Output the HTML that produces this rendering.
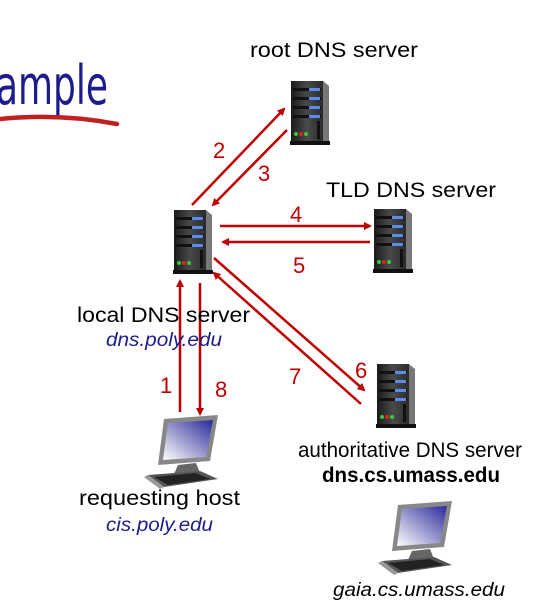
<!DOCTYPE html>
<html><head><meta charset="utf-8"><style>
html,body{margin:0;padding:0;background:#fff;width:553px;height:614px;overflow:hidden}
text{font-family:"Liberation Sans",sans-serif}
</style></head><body>
<svg width="553" height="614" viewBox="0 0 553 614" xmlns="http://www.w3.org/2000/svg">
<defs>
<linearGradient id="sg" x1="0" x2="1" y1="0" y2="0"><stop offset="0" stop-color="#1a1a1a"/><stop offset="0.5" stop-color="#4a4a4a"/><stop offset="1" stop-color="#2a2a2a"/></linearGradient>
<linearGradient id="scr" x1="0" y1="1" x2="1" y2="0"><stop offset="0" stop-color="#fff"/><stop offset="1" stop-color="#2a2a9a"/></linearGradient>
<g id="srv">
<rect x="0" y="2" width="32" height="60" fill="url(#sg)"/>
<polygon points="32,2 38,7 38,62 32,62" fill="#777"/>
<rect x="2" y="9" width="28" height="3" fill="#111"/><rect x="18" y="9" width="11" height="3" fill="#5a8ce8"/>
<rect x="2" y="18" width="28" height="3" fill="#111"/><rect x="18" y="18" width="11" height="3" fill="#5a8ce8"/>
<rect x="2" y="27" width="28" height="3" fill="#111"/><rect x="18" y="27" width="11" height="3" fill="#5a8ce8"/>
<rect x="2" y="36" width="28" height="3" fill="#111"/><rect x="18" y="36" width="11" height="3" fill="#5a8ce8"/>
<rect x="26" y="42" width="3" height="18" fill="#111"/>
<circle cx="5" cy="55" r="2" fill="#3c3"/><circle cx="10" cy="55" r="2" fill="#d22"/><circle cx="15" cy="55" r="2" fill="#3c3"/>
<rect x="-1" y="62" width="40" height="4" fill="#111"/>
</g>
<g id="pc">
<polygon points="20,4 74,0 66,46 14,50" fill="#888"/>
<polygon points="24,8 69,5 62,42 19,45" fill="url(#scr)"/>
<polygon points="34,50 52,48 56,58 30,59" fill="#666"/>
<polygon points="4,60 56,56 74,64 20,72" fill="#555"/>
<polygon points="10,62 52,58 66,64 24,70" fill="#222"/>
<polygon points="0,62 4,60 20,72 16,74" fill="#999"/>
</g>
<marker id="ah" markerWidth="8" markerHeight="8" refX="6" refY="4" orient="auto" markerUnits="userSpaceOnUse"><path d="M0,0 L8,4 L0,8 z" fill="#c00000"/></marker>
</defs>

<text x="-4" y="104" font-size="54" fill="#1c1c8c" textLength="112" lengthAdjust="spacingAndGlyphs" style="font-family:'DejaVu Sans',sans-serif">ample</text>
<path d="M0,119 Q60,113 117,124" stroke="#c02020" stroke-width="4.5" fill="none" stroke-linecap="round"/>

<use href="#srv" x="291" y="79"/>
<use href="#srv" x="174" y="208"/>
<use href="#srv" x="374" y="207"/>
<use href="#srv" x="377" y="362"/>
<use href="#pc" x="144" y="415"/>
<use href="#pc" x="378" y="501"/>

<g stroke="#c00000" stroke-width="2.5" fill="none" marker-end="url(#ah)">
<line x1="192" y1="205" x2="284" y2="109"/>
<line x1="287" y1="130" x2="213" y2="205"/>
<line x1="220" y1="226" x2="370" y2="226"/>
<line x1="370" y1="242" x2="223" y2="242"/>
<line x1="214" y1="258" x2="364" y2="390"/>
<line x1="361" y1="404" x2="214" y2="273"/>
<line x1="180" y1="412" x2="180" y2="281"/>
<line x1="200" y1="283" x2="200" y2="414"/>
</g>
<g fill="#c00000" font-size="22">
<text x="213" y="158">2</text><text x="258" y="181">3</text>
<text x="290" y="222">4</text><text x="293" y="273">5</text>
<text x="289" y="384">7</text><text x="355" y="378">6</text>
<text x="160" y="393">1</text><text x="215" y="397">8</text>
</g>
<g font-size="21" fill="#000">
<text x="250" y="57" textLength="168" lengthAdjust="spacingAndGlyphs">root DNS server</text>
<text x="326" y="197" textLength="170" lengthAdjust="spacingAndGlyphs">TLD DNS server</text>
<text x="77" y="322" textLength="173" lengthAdjust="spacingAndGlyphs">local DNS server</text>
<text x="79" y="505" textLength="161" lengthAdjust="spacingAndGlyphs">requesting host</text>
<text x="298" y="457" textLength="224" lengthAdjust="spacingAndGlyphs">authoritative DNS server</text>
<text x="322" y="482" font-weight="bold" textLength="178" lengthAdjust="spacingAndGlyphs">dns.cs.umass.edu</text>
</g>
<g font-size="19" font-style="italic">
<text x="106" y="346" fill="#1c1c8c" textLength="116" lengthAdjust="spacingAndGlyphs">dns.poly.edu</text>
<text x="106" y="531" fill="#1c1c8c" textLength="107" lengthAdjust="spacingAndGlyphs">cis.poly.edu</text>
<text x="333" y="596" fill="#000" textLength="172" lengthAdjust="spacingAndGlyphs">gaia.cs.umass.edu</text>
</g>
</svg>
</body></html>
